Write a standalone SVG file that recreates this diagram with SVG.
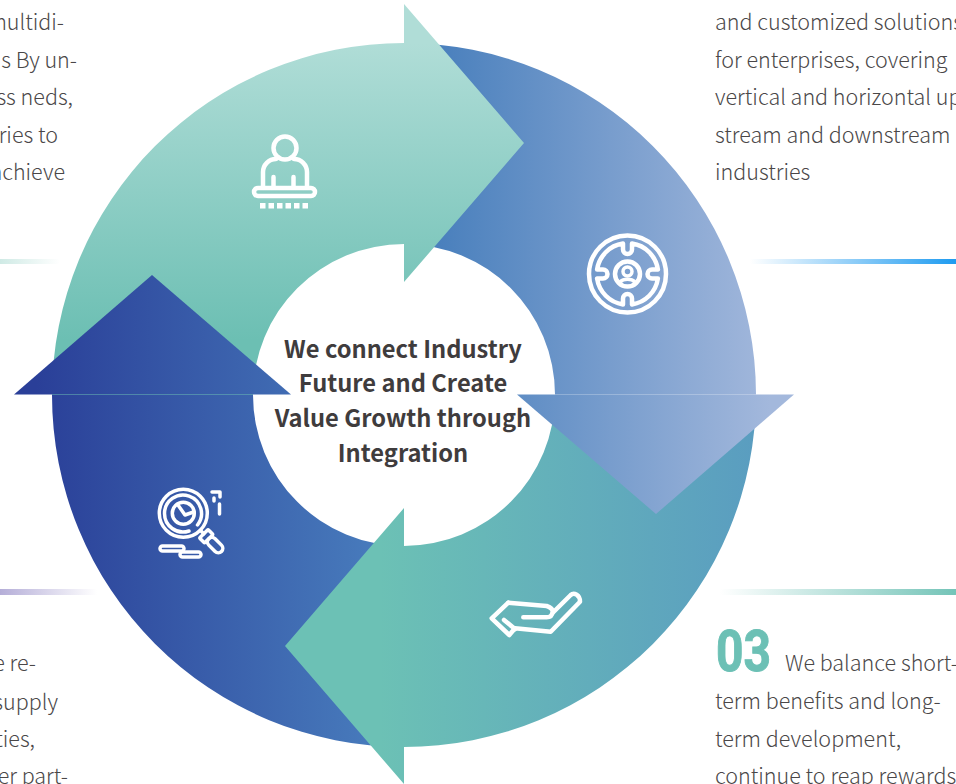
<svg xmlns="http://www.w3.org/2000/svg" width="956" height="784" viewBox="0 0 956 784">
<style>
.b{font-family:"Noto Sans CJK SC","Noto Sans",sans-serif;font-size:21.5px;font-weight:300;fill:#4a4748}
.e{text-anchor:end}
.c{font-family:"Noto Sans CJK SC","Noto Sans",sans-serif;font-size:23.7px;font-weight:700;fill:#3f3c3d;text-anchor:middle}
.i{fill:none;stroke:#fff;stroke-width:4.500;stroke-linecap:round;stroke-linejoin:round}
.t{stroke-width:3.500}
.s{fill:#fff}
</style>
<defs>
<linearGradient id="g1" gradientUnits="userSpaceOnUse" x1="0" y1="43" x2="0" y2="340"><stop offset="0" stop-color="#b0ddd7"/><stop offset="1" stop-color="#6cbfb3"/></linearGradient>
<linearGradient id="g2" gradientUnits="userSpaceOnUse" x1="440" y1="0" x2="770" y2="0"><stop offset="0" stop-color="#4a80bd"/><stop offset="1" stop-color="#a3b8dc"/></linearGradient>
<linearGradient id="g3" gradientUnits="userSpaceOnUse" x1="380" y1="0" x2="756" y2="0"><stop offset="0" stop-color="#6cc1b5"/><stop offset="1" stop-color="#5a9dc0"/></linearGradient>
<linearGradient id="g4" gradientUnits="userSpaceOnUse" x1="36" y1="0" x2="404" y2="0"><stop offset="0" stop-color="#2a3f98"/><stop offset="1" stop-color="#4a80bf"/></linearGradient>
<linearGradient id="b1" x1="0" x2="1" y1="0" y2="0"><stop offset="0" stop-color="#cfeae5"/><stop offset="1" stop-color="#cfeae5" stop-opacity="0"/></linearGradient>
<linearGradient id="b2" x1="0" x2="1" y1="0" y2="0"><stop offset="0" stop-color="#1e9bf0" stop-opacity="0"/><stop offset="1" stop-color="#1e9bf0"/></linearGradient>
<linearGradient id="b3" x1="0" x2="1" y1="0" y2="0"><stop offset="0" stop-color="#b5aed8"/><stop offset="1" stop-color="#b5aed8" stop-opacity="0"/></linearGradient>
<linearGradient id="b4" x1="0" x2="1" y1="0" y2="0"><stop offset="0" stop-color="#74c4b8" stop-opacity="0"/><stop offset="1" stop-color="#74c4b8"/></linearGradient>
</defs>

<g id="bars">
<rect x="0" y="259" width="60" height="5" fill="url(#b1)"/>
<rect x="750" y="259" width="206" height="5" fill="url(#b2)"/>
<rect x="0" y="589" width="97" height="6" fill="url(#b3)"/>
<rect x="720" y="589" width="236" height="6" fill="url(#b4)"/>
</g>

<g id="ring">
<path id="seg4" fill="url(#g4)" d="M404 747A352 352 0 0 1 52 394.500H253A151 151 0 0 0 404 546Z"/>
<path id="seg3" fill="url(#g3)" d="M756 395A352 352 0 0 1 404 747V784L285 646L404 508V546A151 151 0 0 0 555 395Z"/>
<path id="seg2" fill="url(#g2)" d="M404 43A352 352 0 0 1 756 394.500H555A151 151 0 0 0 404 244Z"/>
<path id="head2" fill="url(#g2)" d="M794 394.500L656 514L517 394.500Z"/>
<path id="seg1" fill="url(#g1)" d="M52 395A352 352 0 0 1 404 43V4L524 143L404 282V244A151 151 0 0 0 253 395Z"/>
<path id="head4" fill="url(#g4)" d="M14 394.500L152 275L291 394.500Z"/>
</g>

<g id="icon1">
<circle class="i" cx="285" cy="148" r="11.500"/>
<path class="i" d="M263 186V172A13 13 0 0 1 276 159M307 186V172A13 13 0 0 0 294 159"/>
<path class="i" d="M273.500 177V186M293.500 177V186"/>
<rect class="i" x="254" y="188" width="61" height="8" rx="4"/>
<rect class="s" x="260" y="203" width="5.500" height="5.500"/><rect class="s" x="268.500" y="203" width="5.500" height="5.500"/><rect class="s" x="277" y="203" width="5.500" height="5.500"/><rect class="s" x="285.500" y="203" width="5.500" height="5.500"/><rect class="s" x="294" y="203" width="5.500" height="5.500"/><rect class="s" x="302.500" y="203" width="5.500" height="5.500"/>
</g>

<g id="icon2" transform="translate(627.500 274)">
<circle class="i" r="38.500"/>
<path class="i" d="M4.500 -30.400A30.700 30.700 0 0 1 30.400 -4.500L24.500 -4.500A4.500 4.500 0 0 0 24.500 4.500L30.400 4.500A30.700 30.700 0 0 1 4.500 30.400L4.500 24.500A4.500 4.500 0 0 0 -4.500 24.500L-4.500 30.400A30.700 30.700 0 0 1 -30.400 4.500L-24.500 4.500A4.500 4.500 0 0 0 -24.500 -4.500L-30.400 -4.500A30.700 30.700 0 0 1 -4.500 -30.400L-4.500 -24.500A4.500 4.500 0 0 0 4.500 -24.500Z"/>
<circle class="i" r="12.500"/>
<circle class="i t" cy="-2.500" r="4.500"/>
<path class="i t" d="M-7.500 8A9 6 0 0 1 7.500 8"/>
</g>

<g id="icon3">
<circle class="i t" cx="183.300" cy="513.300" r="24"/>
<path class="i t" d="M197.500 525A18.500 18.500 0 1 0 189 531"/>
<circle class="i t" cx="183.300" cy="513.300" r="11"/>
<path class="i t" d="M178 505L185 515L193.500 512"/>
<g transform="translate(183.300 513.300) rotate(-45)">
<path class="i t" d="M0 24V29"/>
<rect class="i t" x="-6" y="29" width="12" height="7" rx="1"/>
<rect class="i t" x="-4.500" y="36" width="9" height="18" rx="4.500"/>
</g>
<rect class="i t" x="160" y="546" width="24" height="5" rx="2.500"/>
<rect class="i t" x="180" y="552" width="21" height="5" rx="2.500"/>
<path class="i t" d="M212 492H220V497M219.500 504V514M214 498V501"/>
</g>

<g id="icon4">
<path class="i" d="M508.300 602.700L546.700 606Q552.700 608 552.700 611.700Q552 617.300 546.700 617.300H523.300"/>
<path class="i" d="M553 612.500L570.700 595C574 592 580 595 580 601.700L550.700 631.700L515 628.300L509.300 635L491.700 618.300L508.300 602.700"/>
<path class="i" d="M504 620L515 629"/>
</g>

<g id="center-label">
<text class="c" x="403" y="358">We connect Industry</text>
<text class="c" x="403" y="392">Future and Create</text>
<text class="c" x="403" y="427">Value Growth through</text>
<text class="c" x="403" y="462">Integration</text>
</g>

<g id="text-top-left">
<text class="b e" x="64" y="30">multidi-</text>
<text class="b e" x="77" y="68">s By un-</text>
<text class="b e" x="73" y="105">ss neds,</text>
<text class="b e" x="58" y="143">ries to</text>
<text class="b e" x="65" y="180">achieve</text>
</g>

<g id="text-top-right">
<text class="b" x="715" y="30">and customized solutions</text>
<text class="b" x="715" y="68">for enterprises, covering</text>
<text class="b" x="715" y="105">vertical and horizontal up</text>
<text class="b" x="715" y="143">stream and downstream</text>
<text class="b" x="715" y="180">industries</text>
</g>

<g id="text-bottom-left">
<text class="b e" x="36" y="671">e re-</text>
<text class="b e" x="58" y="710">supply</text>
<text class="b e" x="35" y="747">ties,</text>
<text class="b e" x="68" y="784">er part-</text>
</g>

<g id="text-bottom-right">
<text x="716" y="671" font-family="Roboto,sans-serif" font-size="58" font-weight="700" fill="#6cc0b5" stroke="#6cc0b5" stroke-width="1" textLength="55" lengthAdjust="spacingAndGlyphs">03</text>
<text class="b" x="785" y="671">We balance short-</text>
<text class="b" x="715" y="709">term benefits and long-</text>
<text class="b" x="715" y="747">term development,</text>
<text class="b" x="715" y="784">continue to reap rewards</text>
</g>
</svg>
